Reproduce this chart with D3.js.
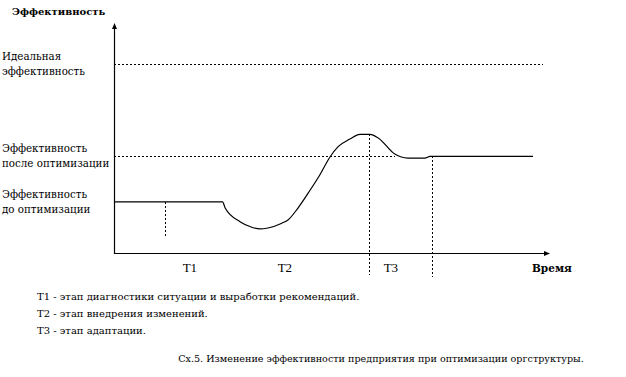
<!DOCTYPE html>
<html><head><meta charset="utf-8">
<script src="https://cdn.jsdelivr.net/npm/d3@7"></script>
</head>
<body style="margin:0"><svg id="c" width="626" height="377"></svg>
<script>
// ---- data ----
const curveTime = [0, 24.9, 25.5, 28.9, 31.6, 33.5, 35.3, 38.5, 39.9, 42.2, 45.0, 47.2, 49.5, 51.4, 54.1, 56.4, 58.7, 60.6, 64.4, 67.4, 71.3, 72.5, 96.1];
const curveEff  = [27.4, 27.4, 24.2, 17.0, 14.1, 13.2, 13.7, 16.2, 17.9, 24.2, 33.7, 41.6, 50.9, 56.5, 60.5, 63.0, 63.0, 61.1, 52.6, 50.5, 50.5, 51.4, 51.4];
const levelNames = [["Идеальная", "эффективность"], ["Эффективность", "после оптимизации"], ["Эффективность", "до оптимизации"]];
const levelValues = [100, 51.5, 27.4];
const levelGuideEnd = [98.4, 64.4, 0];
const phaseNames = ["T1", "T2", "T3"];
const phaseLabelTime = [17.4, 39.2, 63.5];
const markerTime = [11.7, 58.5, 72.9];
const markerTop = [27.4, 63.0, 51.4];
const markerBottom = [8.4, -11, -12];
const legendLines = ["T1 - этап диагностики ситуации и выработки рекомендаций.", "T2 - этап внедрения изменений.", "T3 - этап адаптации."];
const caption = "Сх.5. Изменение эффективности предприятия при оптимизации оргструктуры.";
const yTitle = "Эффективность";
const xTitle = "Время";

// ---- drawing ----
const CYR = '"DejaVu Serif"';
const LAT = '"Liberation Serif"';
const svg = d3.select("#c");
const x = d3.scaleLinear().domain([0, 100]).range([114, 550]);
const y = d3.scaleLinear().domain([0, 100]).range([254, 64]);
const yTop = 121.6;

function txt(xp, yp, s, size, fam, bold) {
  const t = svg.append("text").attr("x", xp).attr("y", yp)
    .style("font-family", fam).attr("font-size", size).attr("fill", "#000").text(s);
  if (bold) t.attr("font-weight", "bold");
  return t;
}

levelValues.forEach((v, i) => {
  if (levelGuideEnd[i] > 0) {
    svg.append("line").attr("x1", x(0)).attr("x2", x(levelGuideEnd[i]))
      .attr("y1", Math.round(y(v)) + 0.5).attr("y2", Math.round(y(v)) + 0.5)
      .attr("stroke", "#000").attr("stroke-width", 1).attr("stroke-dasharray", "2,2")
      .attr("shape-rendering", "crispEdges");
  }
});
markerTime.forEach((t, i) => {
  svg.append("line").attr("x1", Math.round(x(t)) + 0.5).attr("x2", Math.round(x(t)) + 0.5)
    .attr("y1", y(markerTop[i])).attr("y2", y(markerBottom[i]))
    .attr("stroke", "#000").attr("stroke-width", 1).attr("stroke-dasharray", "2,2")
    .attr("shape-rendering", "crispEdges");
});

svg.append("line").attr("x1", x(0) + 0.5).attr("x2", x(0) + 0.5).attr("y1", y(0)).attr("y2", y(yTop) + 4)
  .attr("stroke", "#000").attr("stroke-width", 1.2);
svg.append("path").attr("d", `M${x(0)+0.5},${y(yTop)} l-2.5,6 h5 z`).attr("fill", "#000");
svg.append("line").attr("x1", x(0)).attr("x2", x(100) - 4).attr("y1", y(0) - 0.5).attr("y2", y(0) - 0.5)
  .attr("stroke", "#000").attr("stroke-width", 1.2);
svg.append("path").attr("d", `M${x(100)},${y(0)-0.5} l-6,-2.5 v5 z`).attr("fill", "#000");

const pts = curveTime.map((t, i) => [t, curveEff[i]]);
svg.append("path").datum(pts)
  .attr("d", d3.line().x(d => x(d[0])).y(d => y(d[1])).curve(d3.curveMonotoneX))
  .attr("fill", "none").attr("stroke", "#000").attr("stroke-width", 1.2);

levelNames.forEach((lines, i) => {
  const yy = y(levelValues[i]);
  txt(2, yy - 4, lines[0], 10.3, CYR);
  txt(2, yy + 11, lines[1], 10.3, CYR);
});

txt(12, 15, yTitle, 10, CYR, true);
txt(532, 272, xTitle, 10.5, CYR, true);

phaseNames.forEach((p, i) => {
  txt(x(phaseLabelTime[i]), 272, p, 13, LAT).attr("text-anchor", "middle");
});

legendLines.forEach((l, i) => {
  txt(37, 300 + i * 17, l, 10, CYR);
});
txt(381, 362, caption, 9.6, CYR).attr("text-anchor", "middle");
</script>
</body></html>
